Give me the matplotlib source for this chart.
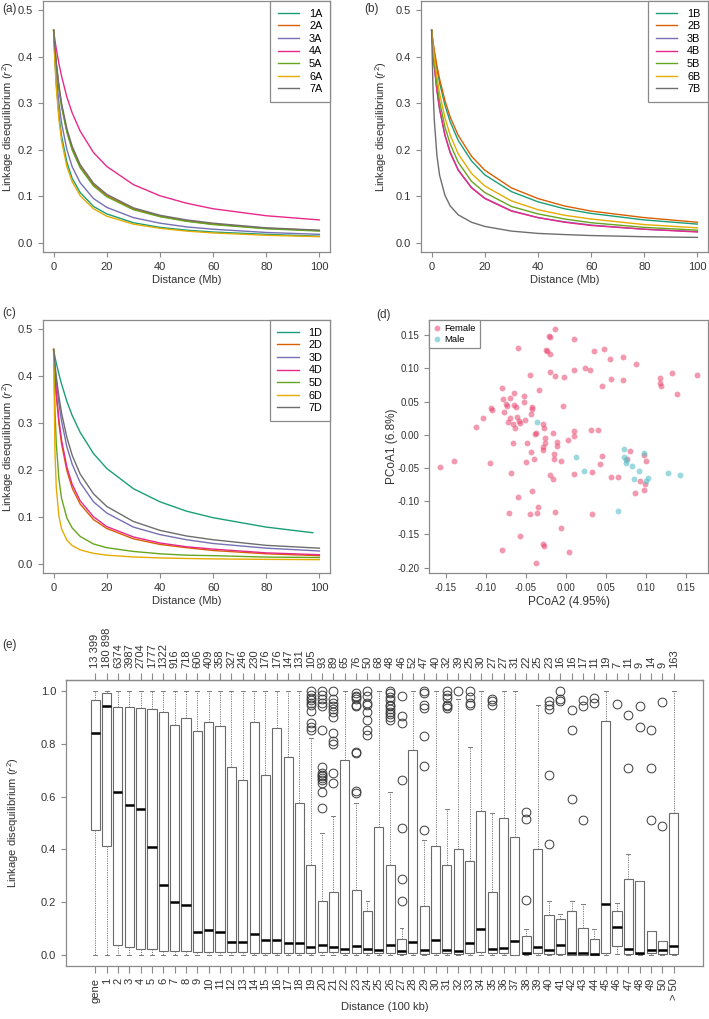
import matplotlib
matplotlib.use("Agg")
import matplotlib.pyplot as plt
from matplotlib.lines import Line2D
import numpy as np

plt.rcParams['font.family'] = ['Liberation Sans', 'DejaVu Sans']
plt.rcParams['axes.unicode_minus'] = False
plt.rcParams['mathtext.fontset'] = 'custom'
plt.rcParams['mathtext.it'] = 'Liberation Sans:italic'
plt.rcParams['mathtext.rm'] = 'Liberation Sans'

# ---------------- LD decay curves (a)-(c) ----------------
dist = [0, 0.5, 1, 2, 3, 5, 7, 10, 15, 20, 30, 40, 50, 60, 80, 100]
dist_1D = [0, 0.5, 1, 2, 3, 5, 7, 10, 15, 20, 30, 40, 50, 60, 80, 97.5]

names_A = ["1A", "2A", "3A", "4A", "5A", "6A", "7A"]
ld_1A = [.457, .390, .341, .274, .229, .173, .138, .108, .078, .062, .043, .033, .027, .023, .018, .014]
ld_2A = [.457, .417, .385, .334, .295, .240, .202, .164, .125, .101, .073, .057, .047, .040, .031, .026]
ld_3A = [.457, .402, .361, .300, .257, .200, .163, .129, .095, .076, .054, .042, .034, .029, .022, .018]
ld_4A = [.457, .435, .417, .385, .358, .313, .279, .240, .194, .164, .125, .101, .085, .073, .058, .049]
ld_5A = [.457, .416, .383, .332, .292, .237, .199, .161, .122, .099, .071, .056, .046, .039, .030, .025]
ld_6A = [.457, .385, .334, .264, .219, .163, .131, .101, .073, .057, .040, .031, .025, .021, .016, .013]
ld_7A = [.457, .418, .387, .338, .299, .245, .207, .168, .128, .104, .075, .059, .049, .042, .032, .027]

names_B = ["1B", "2B", "3B", "4B", "5B", "6B", "7B"]
ld_1B = [.457, .431, .410, .374, .344, .296, .260, .220, .176, .146, .110, .088, .073, .063, .049, .040]
ld_2B = [.457, .433, .414, .380, .352, .306, .270, .231, .186, .156, .118, .095, .079, .068, .054, .044]
ld_3B = [.457, .415, .381, .328, .288, .232, .195, .157, .119, .096, .069, .054, .045, .038, .029, .024]
ld_4B = [.457, .414, .380, .327, .287, .231, .193, .156, .118, .095, .068, .054, .044, .037, .029, .023]
ld_5B = [.457, .420, .390, .341, .304, .249, .212, .173, .132, .108, .078, .062, .051, .043, .033, .027]
ld_6B = [.457, .425, .399, .356, .321, .269, .231, .191, .149, .122, .090, .071, .059, .051, .039, .032]
ld_7B = [.457, .335, .264, .187, .145, .102, .079, .060, .044, .035, .025, .020, .0175, .0154, .0129, .0114]

names_D = ["1D", "2D", "3D", "4D", "5D", "6D", "7D"]
ld_1D = [.457, .441, .428, .404, .383, .346, .316, .280, .235, .203, .160, .132, .112, .098, .078, .066]
ld_2D = [.457, .402, .360, .298, .255, .198, .161, .127, .094, .075, .053, .041, .034, .028, .021, .017]
ld_3D = [.457, .420, .390, .341, .304, .249, .212, .173, .132, .108, .078, .062, .051, .043, .033, .027]
ld_4D = [.457, .405, .365, .306, .263, .206, .169, .134, .100, .079, .057, .044, .036, .031, .023, .019]
ld_5D = [.457, .328, .256, .180, .139, .097, .076, .058, .042, .034, .026, .021, .018, .017, .014, .013]
ld_6D = [.457, .237, .162, .101, .074, .050, .0385, .0293, .0219, .0181, .0142, .0122, .0110, .0101, .0091, .0085]
ld_7D = [.457, .425, .399, .356, .321, .269, .231, .191, .149, .122, .090, .071, .059, .051, .039, .033]

dark2 = ['#1B9E77', '#D95F02', '#7570B3', '#E7298A', '#66A61E', '#E6AB02', '#6E6E6E']

# ---------------- PCoA (d) ----------------
female_x = [-0.157, -0.140, -0.112, -0.104, -0.095, -0.093, -0.0925, -0.080, -0.079, -0.0775,
            -0.075, -0.073, -0.072, -0.070, -0.070, -0.069, -0.080, -0.066, -0.066, -0.065,
            -0.065, -0.063, -0.062, -0.061, -0.059, -0.0575, -0.060, -0.060, -0.057, -0.071,
            -0.052, -0.052, -0.051, -0.050, -0.048, -0.045, -0.045, -0.043, -0.0425, -0.042,
            -0.0425, -0.043, -0.040, -0.038, -0.037, -0.037, -0.036, -0.035, -0.034, -0.028,
            -0.027, -0.026, -0.026, -0.029, -0.028, -0.029, -0.027, -0.025, -0.024, -0.021,
            -0.020, -0.020, -0.020, -0.020, -0.016, -0.016, -0.015, -0.0145, -0.014, -0.013,
            -0.013, -0.011, -0.011, -0.006, -0.006, -0.003, -0.002, 0.003, 0.004, 0.0095,
            0.010, 0.010, 0.010, 0.0095, 0.024, 0.030, 0.031, 0.032, 0.032, 0.035,
            0.040, 0.0425, 0.045, 0.045, 0.048, 0.055, 0.056, 0.056, 0.065, 0.071,
            0.071, 0.076, 0.080, 0.088, 0.086, 0.092, 0.097, 0.097, 0.099, 0.100,
            0.118, 0.118, 0.119, 0.133, 0.139, 0.164]
female_y = [-0.049, -0.040, 0.012, 0.025, -0.042, 0.041, 0.037, 0.070, 0.054, 0.034,
            0.047, 0.043, 0.020, 0.026, 0.055, -0.058, -0.173, 0.016, -0.012, 0.063,
            0.045, 0.010, 0.042, 0.027, 0.021, 0.018, 0.131, -0.093, -0.153, -0.118,
            0.058, 0.049, 0.023, -0.041, -0.012, 0.090, -0.119, -0.026, -0.085, 0.042,
            0.039, 0.031, -0.036, 0.001, 0.003, -0.193, -0.117, -0.108, 0.068, 0.017,
            0.011, -0.004, -0.012, -0.018, -0.023, -0.164, -0.168, 0.128, 0.127, 0.149,
            0.147, 0.122, 0.094, -0.060, -0.067, 0.003, -0.029, -0.037, 0.159, 0.089,
            -0.116, -0.011, -0.016, -0.039, -0.140, 0.044, 0.087, -0.007, -0.177, 0.006,
            -0.002, 0.097, 0.144, -0.059, 0.101, 0.097, 0.007, -0.056, -0.119, 0.127,
            0.008, -0.044, -0.032, 0.074, 0.129, 0.114, 0.084, -0.063, -0.063, 0.118,
            0.083, -0.037, -0.024, 0.106, -0.087, -0.070, -0.030, -0.083, -0.074, -0.040,
            0.085, 0.078, 0.074, 0.093, 0.061, 0.090]
male_x = [-0.036, 0.0125, 0.023, 0.072, 0.072, 0.075, 0.0755, 0.082, 0.085, 0.091,
          0.098, 0.100, 0.103, 0.127, 0.143, 0.065]
male_y = [0.019, -0.033, -0.055, -0.021, -0.033, -0.038, -0.042, -0.047, -0.067, -0.055,
          -0.027, -0.070, -0.065, -0.058, -0.061, -0.115]

# ---------------- Boxplots (e) ----------------
group_labels = ['gene'] + [str(k) for k in range(1, 51)] + ['> 50']
count_labels = ['13 399', '180 898', '6374', '3987', '2704', '1777', '1322', '916', '718', '606',
                '409', '358', '327', '246', '230', '176', '176', '147', '131', '105',
                '93', '89', '65', '76', '50', '68', '48', '46', '52', '47',
                '40', '32', '39', '25', '30', '27', '27', '31', '22', '25',
                '23', '16', '16', '17', '11', '19', '7', '11', '9', '14', '9', '163']
q1_e = [0.472, 0.415, 0.039, 0.033, 0.026, 0.023, 0.018, 0.015, 0.015, 0.011,
        0.011, 0.011, 0.011, 0.011, 0.010, 0.010, 0.010, 0.009, 0.009, 0.009,
        0.013, 0.013, 0.010, 0.010, 0.010, 0.008, 0.010, 0.004, 0.010, 0.004,
        0.010, 0.008, 0.004, 0.010, 0.014, 0.008, 0.010, 0.003, 0.004, 0.010,
        0.004, 0.004, 0.003, 0.003, 0.003, 0.008, 0.034, 0.005, 0.004, 0.008,
        0.004, 0.006]
med_e = [0.838, 0.941, 0.616, 0.569, 0.552, 0.411, 0.265, 0.203, 0.190, 0.089,
         0.096, 0.089, 0.052, 0.050, 0.082, 0.060, 0.060, 0.048, 0.048, 0.033,
         0.039, 0.033, 0.023, 0.035, 0.023, 0.019, 0.039, 0.015, 0.052, 0.020,
         0.057, 0.019, 0.015, 0.045, 0.098, 0.023, 0.028, 0.054, 0.009, 0.030,
         0.020, 0.038, 0.010, 0.010, 0.006, 0.196, 0.109, 0.025, 0.009, 0.020,
         0.019, 0.035]
q3_e = [0.966, 0.991, 0.938, 0.938, 0.936, 0.930, 0.920, 0.870, 0.897, 0.848,
        0.882, 0.865, 0.713, 0.662, 0.883, 0.682, 0.859, 0.748, 0.574, 0.340,
        0.205, 0.240, 0.737, 0.247, 0.169, 0.486, 0.340, 0.063, 0.774, 0.186,
        0.413, 0.340, 0.400, 0.357, 0.547, 0.240, 0.517, 0.448, 0.072, 0.400,
        0.151, 0.136, 0.169, 0.103, 0.063, 0.884, 0.167, 0.289, 0.280, 0.094,
        0.055, 0.536]
whislo_e = [0.0] * 46 + [0.005] + [0.0] * 5
whishi_e = [1.0] * 19 + [0.82, 0.463, 0.528, 1.0, 0.576, 0.205, 1.0, 0.618, 0.102, 1.0,
                         0.435, 1.0, 0.551, 0.97, 0.786, 1.0, 0.538, 1.0, 1.0, 0.098,
                         0.945, 0.204, 0.157, 0.206, 0.196, 0.10, 1.0, 0.199, 0.384, 0.28,
                         0.094, 0.055, 1.0]
outliers_e = [[]] * 19 + [
    [1.0, 0.985, 0.972, 0.966, 0.953, 0.947, 0.922, 0.878, 0.863, 0.853],
    [1.0, 0.985, 0.97, 0.955, 0.94, 0.85, 0.712, 0.69, 0.683, 0.677, 0.67, 0.664, 0.652, 0.616, 0.555],
    [1.0, 0.97, 0.955, 0.94, 0.93, 0.92, 0.9, 0.84, 0.81, 0.80, 0.69, 0.65],
    [],
    [0.99, 0.98, 0.975, 0.97, 0.947, 0.94, 0.77, 0.765, 0.62, 0.614],
    [1.0, 0.98, 0.953, 0.947, 0.92, 0.89, 0.853, 0.834],
    [],
    [1.0, 0.99, 0.975, 0.965, 0.947, 0.94, 0.93, 0.92, 0.91, 0.9, 0.89],
    [0.98, 0.905, 0.878, 0.664, 0.48, 0.287, 0.205],
    [],
    [1.0, 0.99, 0.947, 0.935, 0.83, 0.717, 0.473],
    [],
    [1.0, 0.985, 0.972, 0.947, 0.94, 0.935],
    [1.0],
    [1.0, 0.976, 0.953, 0.947],
    [],
    [0.968, 0.96, 0.947],
    [],
    [],
    [0.541, 0.516, 0.211],
    [],
    [0.96, 0.947, 0.93, 0.683, 0.419],
    [1.0, 0.969, 0.962],
    [0.926, 0.853, 0.589],
    [0.966, 0.943, 0.513],
    [0.972, 0.953],
    [],
    [0.95],
    [0.909, 0.708],
    [0.94, 0.863],
    [0.85, 0.708, 0.513],
    [0.956, 0.49],
    [],
]

FRAME = '#8a8a8a'
TXT = '#333333'
W, H = 709, 1019


def box(l, t, r, b):
    # pixel box -> figure fraction
    return [l / W, 1 - b / H, (r - l) / W, (b - t) / H]


def style(ax, fs=8):
    for s in ax.spines.values():
        s.set_color(FRAME)
        s.set_linewidth(0.9)
    ax.tick_params(colors=FRAME, labelcolor=TXT, labelsize=fs, length=3.5, width=0.8)


def ld_panel(ax, curves, names, xs_list, ylab_x):
    for vals, name, col, xs in zip(curves, names, dark2, xs_list):
        ax.plot(xs, vals, color=col, lw=1.0, label=name)
    ax.set_xlim(-4, 104)
    ax.set_ylim(-0.02, 0.52)
    ax.set_xticks(range(0, 101, 20))
    ax.set_yticks([0.0, 0.1, 0.2, 0.3, 0.4, 0.5])
    ax.yaxis.set_major_formatter('{x:.1f}')
    ax.set_xlabel('Distance (Mb)', fontsize=8, color=TXT)
    ax.xaxis.set_label_coords(0.5, -0.092)
    ax.set_ylabel('Linkage disequilibrium ($r^2$)', fontsize=8, color=TXT)
    ax.yaxis.set_label_coords(ylab_x, 0.5)
    style(ax)
    leg = ax.legend(loc='upper right', borderaxespad=0, fancybox=False, framealpha=1,
                    edgecolor=FRAME, fontsize=7.8, handlelength=2.0, labelspacing=0.24,
                    handletextpad=0.9, borderpad=0.7)
    leg.get_frame().set_linewidth(0.9)


fig = plt.figure(figsize=(7.09, 10.19), dpi=100)

ax_a = fig.add_axes(box(43, 1, 330, 252))
ld_panel(ax_a, [ld_1A, ld_2A, ld_3A, ld_4A, ld_5A, ld_6A, ld_7A], names_A, [dist] * 7, -0.094)

ax_b = fig.add_axes(box(421, 1, 708, 252))
ld_panel(ax_b, [ld_1B, ld_2B, ld_3B, ld_4B, ld_5B, ld_6B, ld_7B], names_B, [dist] * 7, -0.111)

ax_c = fig.add_axes(box(43, 320, 330, 573))
ld_panel(ax_c, [ld_1D, ld_2D, ld_3D, ld_4D, ld_5D, ld_6D, ld_7D], names_D,
         [dist_1D] + [dist] * 6, -0.094)

# (d) PCoA
ax_d = fig.add_axes(box(429, 320, 708, 573))
ax_d.scatter(female_x, female_y, s=18, color='#E8456E', alpha=0.55, linewidths=0)
ax_d.scatter(male_x, male_y, s=18, color='#5BC0C8', alpha=0.6, linewidths=0)
ax_d.set_xlim(-0.171, 0.1775)
ax_d.set_ylim(-0.208, 0.173)
ax_d.set_xticks([-0.15, -0.10, -0.05, 0.0, 0.05, 0.10, 0.15])
ax_d.set_yticks([-0.20, -0.15, -0.10, -0.05, 0.0, 0.05, 0.10, 0.15])
ax_d.xaxis.set_major_formatter('{x:.2f}')
ax_d.yaxis.set_major_formatter('{x:.2f}')
ax_d.set_xlabel('PCoA2 (4.95%)', fontsize=8.5, color=TXT)
ax_d.xaxis.set_label_coords(0.5, -0.09)
ax_d.set_ylabel('PCoA1 (6.8%)', fontsize=8.5, color=TXT)
ax_d.yaxis.set_label_coords(-0.111, 0.5)
style(ax_d, fs=7)
handles = [Line2D([], [], ls='', marker='o', ms=4.2, color='#E8456E', alpha=0.55, mew=0),
           Line2D([], [], ls='', marker='o', ms=4.2, color='#5BC0C8', alpha=0.6, mew=0)]
leg = ax_d.legend(handles, ['Female', 'Male'], loc='upper left', borderaxespad=0,
                  fancybox=False, framealpha=1, edgecolor=FRAME, fontsize=6.8,
                  handlelength=0.8, handletextpad=0.4, labelspacing=0.2, borderpad=0.45)
leg.get_frame().set_linewidth(0.9)

# (e) boxplots
ax_e = fig.add_axes(box(66, 680, 703, 966))
positions = list(range(1, len(group_labels) + 1))
stats = []
for i in range(len(group_labels)):
    stats.append(dict(med=med_e[i], q1=q1_e[i], q3=q3_e[i], whislo=whislo_e[i],
                      whishi=whishi_e[i], fliers=outliers_e[i]))
ax_e.bxp(stats, positions=positions, widths=0.8, patch_artist=True, manage_ticks=False,
         capwidths=0.35,
         boxprops=dict(facecolor='white', edgecolor='#6a6a6a', linewidth=0.8),
         medianprops=dict(color='black', linewidth=1.8, solid_capstyle='butt'),
         whiskerprops=dict(color='#7a7a7a', linewidth=0.7, linestyle=(0, (1.2, 1.2))),
         capprops=dict(color='#7a7a7a', linewidth=0.7),
         flierprops=dict(marker='o', markerfacecolor='none', markeredgecolor='#3a3a3a',
                         markersize=6.3, markeredgewidth=0.7))
ax_e.set_xlim(-1.58, 54.58)
ax_e.set_ylim(-0.04, 1.04)
ax_e.set_yticks([0.0, 0.2, 0.4, 0.6, 0.8, 1.0])
ax_e.yaxis.set_major_formatter('{x:.1f}')
ax_e.set_xticks(positions, labels=group_labels, rotation=90)
ax_e.set_xlabel('Distance (100 kb)', fontsize=8, color=TXT)
ax_e.xaxis.set_label_coords(0.5, -0.125)
ax_e.set_ylabel('Linkage disequilibrium ($r^2$)', fontsize=8, color=TXT)
ax_e.yaxis.set_label_coords(-0.0706, 0.5)
style(ax_e)
ax_e.tick_params(axis='x', length=5)
top = ax_e.secondary_xaxis('top')
top.set_xticks(positions, labels=count_labels, rotation=90)
top.tick_params(colors=FRAME, labelcolor=TXT, labelsize=8, length=5, width=0.8)
top.spines['top'].set_color(FRAME)
top.spines['top'].set_linewidth(0.9)

# panel tags
for tag, x, y in [('(a)', 2, 9), ('(b)', 364, 9), ('(c)', 2, 313), ('(d)', 376, 315), ('(e)', 2, 645)]:
    fig.text(x / W, 1 - y / H, tag, fontsize=8.5, color=TXT, va='center', ha='left')

fig.savefig('out.png', dpi=100)
